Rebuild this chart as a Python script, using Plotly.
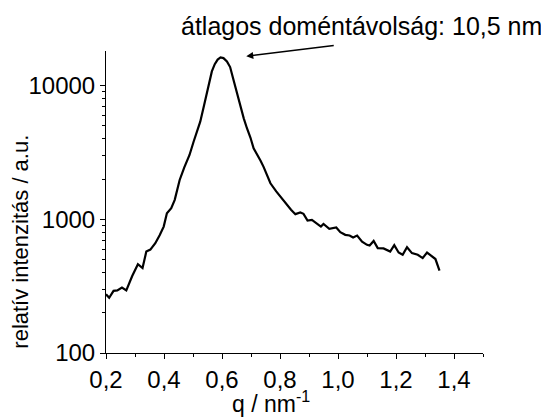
import plotly.graph_objects as go

# Data
q = [0.200, 0.211, 0.226, 0.239, 0.255, 0.270, 0.290, 0.310, 0.326, 0.339,
     0.353, 0.370, 0.385, 0.399, 0.410, 0.425, 0.437, 0.454, 0.470, 0.488,
     0.502, 0.525, 0.537, 0.548, 0.557, 0.565, 0.575, 0.585, 0.595, 0.605,
     0.617, 0.628, 0.640, 0.652, 0.663, 0.675, 0.686, 0.698, 0.709, 0.722,
     0.733, 0.743, 0.755, 0.767, 0.787, 0.807, 0.822, 0.838, 0.853, 0.870,
     0.881, 0.895, 0.910, 0.925, 0.941, 0.950, 0.970, 0.994, 1.008, 1.025,
     1.040, 1.052, 1.066, 1.083, 1.100, 1.109, 1.123, 1.137, 1.157, 1.180,
     1.194, 1.209, 1.223, 1.238, 1.255, 1.275, 1.292, 1.307, 1.321, 1.336,
     1.350]
intensity = [275, 259, 292, 294, 309, 294, 375, 462, 432, 574,
             594, 663, 760, 883, 1112, 1213, 1400, 1972, 2450, 3033,
             3811, 5380, 6970, 9000, 10720, 12800, 14500, 15700, 16300, 16100,
             15200, 13800, 11000, 8800, 7000, 5700, 4810, 4100, 3400, 3050,
             2750, 2483, 2150, 1862, 1620, 1420, 1300, 1180, 1094, 1125,
             1100, 980, 990, 935, 883, 925, 850, 869, 802, 766,
             757, 731, 757, 682, 645, 637, 690, 609, 606, 574,
             641, 565, 543, 619, 559, 543, 513, 565, 533, 505,
             414]

x_tickvals = [0.2, 0.4, 0.6, 0.8, 1.0, 1.2, 1.4]
x_ticktext = ["0,2", "0,4", "0,6", "0,8", "1,0", "1,2", "1,4"]
x_minor = [0.3, 0.5, 0.7, 0.9, 1.1, 1.3, 1.5]
y_tickvals = [100, 1000, 10000]
y_ticktext = ["100", "1000", "10000"]
y_minor = [m * d for d in (100, 1000, 10000) for m in range(2, 10) if m * d < 18500]

title_text = "átlagos doméntávolság: 10,5 nm"
x_title = "q / nm<sup>-1</sup>"
y_title = "relatív intenzitás / a.u."

FONT = "Liberation Sans, Arial, sans-serif"

fig = go.Figure()
fig.add_trace(go.Scatter(x=q, y=intensity, mode="lines",
                         line=dict(color="black", width=2.2),
                         showlegend=False, hoverinfo="skip"))

fig.update_layout(
    width=541, height=411,
    margin=dict(l=98, r=66, t=43, b=66, autoexpand=False),
    paper_bgcolor="white", plot_bgcolor="white",
    font=dict(family=FONT, size=24, color="black"),
    xaxis=dict(range=[0.2, 1.5], showline=True, linecolor="black", linewidth=1,
               showgrid=False, zeroline=False, ticks="outside", ticklen=5,
               tickwidth=1, tickcolor="black", automargin=False,
               tickvals=x_tickvals, ticktext=x_ticktext,
               minor=dict(tickvals=x_minor, ticks="outside", ticklen=3,
                          tickcolor="black", tickwidth=1, showgrid=False),
               tickfont=dict(size=24)),
    yaxis=dict(type="log", range=[2, 4.26], showline=True, linecolor="black",
               linewidth=1, showgrid=False, zeroline=False, ticks="outside",
               ticklen=5, tickwidth=1, tickcolor="black", automargin=False,
               tickvals=y_tickvals, ticktext=y_ticktext,
               minor=dict(tickvals=y_minor, ticks="outside", ticklen=3,
                          tickcolor="black", tickwidth=1, showgrid=False),
               tickfont=dict(size=24)),
)

fig.add_annotation(text=title_text, xref="paper", yref="paper",
                   x=1.163, y=1.082, xanchor="right", yanchor="middle",
                   showarrow=False, font=dict(size=25, family=FONT))
fig.add_annotation(text="", xref="paper", yref="paper", x=0.372, y=0.9825,
                   ax=89, ay=-11, showarrow=True, arrowhead=2, arrowsize=1,
                   arrowwidth=1.4, arrowcolor="black")
fig.add_annotation(text=y_title, xref="paper", yref="paper", x=-0.227, y=0.37,
                   xanchor="center", yanchor="middle", textangle=-90,
                   showarrow=False, font=dict(size=22, family=FONT))
fig.add_annotation(text=x_title, xref="paper", yref="paper", x=0.438, y=-0.217,
                   xanchor="center", yanchor="bottom",
                   showarrow=False, font=dict(size=23, family=FONT))

fig.write_html("out.html")
